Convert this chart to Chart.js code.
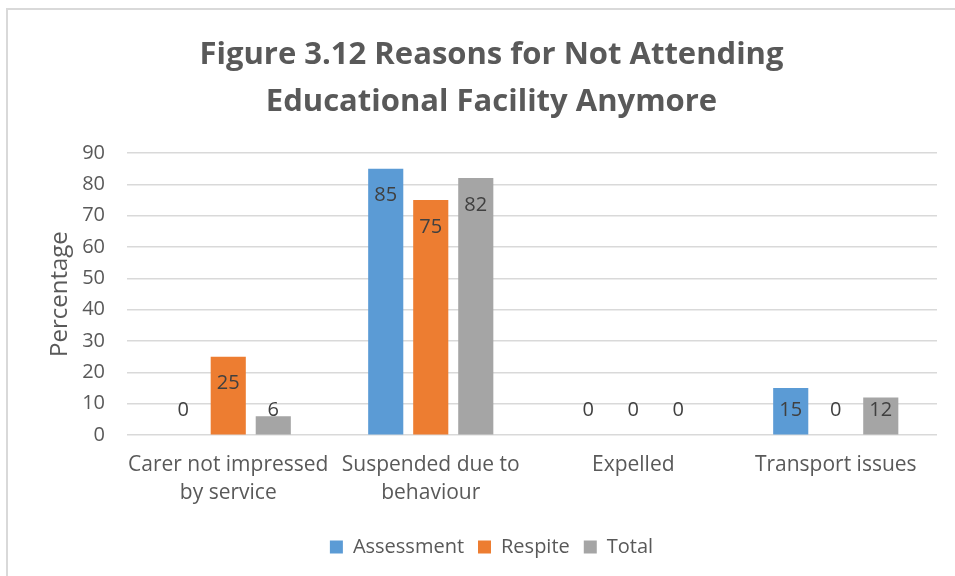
<!DOCTYPE html>
<html>
<head>
<meta charset="utf-8">
<script src="https://cdn.jsdelivr.net/npm/chart.js@4"></script>
<style>
  html, body { margin: 0; padding: 0; background: #fff; overflow: hidden; }
  #frame {
    position: absolute; left: 6px; top: 8px; width: 980px; height: 600px;
    border: 2px solid #d9d9d9; box-sizing: border-box;
  }
  #wrap { position: absolute; left: 0; top: 0; width: 955px; height: 576px; }
</style>
</head>
<body>
<div id="frame"></div>
<div id="wrap"><canvas id="chart"></canvas></div>
<script>
const categories = [
  ["Carer not impressed", "by service"],
  ["Suspended due to", "behaviour"],
  "Expelled",
  "Transport issues",
];
const assessment = [0, 85, 0, 15];
const respite = [25, 75, 0, 0];
const total = [6, 82, 0, 12];
const y_ticks = [0, 10, 20, 30, 40, 50, 60, 70, 80, 90];

const text_font = "'Open Sans', 'Noto Sans', sans-serif";

// value labels sit just inside the top of each bar, but never below a floor above the axis
const bar_labels = {
  id: "bar_labels",
  afterDatasetsDraw(chart) {
    const ctx = chart.ctx;
    const y_scale = chart.scales.y;
    const base = y_scale.getPixelForValue(0);
    ctx.save();
    ctx.font = "20px " + text_font;
    ctx.fillStyle = "#404040";
    ctx.textAlign = "center";
    ctx.textBaseline = "middle";
    chart.data.datasets.forEach((ds, di) => {
      chart.getDatasetMeta(di).data.forEach((bar, i) => {
        const top = y_scale.getPixelForValue(ds.data[i]);
        const y = Math.min(top + 27, base - 25);
        ctx.fillText(String(ds.data[i]), bar.x, y);
      });
    });
    ctx.restore();
  },
};

new Chart(document.getElementById("chart"), {
  type: "bar",
  data: {
    labels: categories,
    datasets: [
      { label: "Assessment", data: assessment, backgroundColor: "#5b9bd5" },
      { label: "Respite", data: respite, backgroundColor: "#ed7d31" },
      { label: "Total", data: total, backgroundColor: "#a5a5a5" },
    ],
  },
  options: {
    responsive: true,
    maintainAspectRatio: false,
    animation: false,
    categoryPercentage: 0.667,
    barPercentage: 0.78,
    layout: {
      autoPadding: false,
      padding: { left: 46, right: 18, top: 14, bottom: 9 },
    },
    plugins: {
      title: {
        display: true,
        text: ["Figure 3.12 Reasons for Not Attending", "Educational Facility Anymore"],
        color: "#595959",
        font: { family: text_font, size: 31, weight: "bold", lineHeight: 1.5 },
        padding: { top: 18, bottom: 28 },
      },
      legend: {
        position: "bottom",
        labels: {
          color: "#595959",
          font: { family: text_font, size: 20 },
          boxWidth: 13,
          boxHeight: 13,
          padding: 14,
        },
      },
      tooltip: { enabled: false },
    },
    scales: {
      x: {
        grid: { display: false },
        border: { display: false },
        // long category names may spill past the plot edges; keep a gap above the legend
        afterFit(axis) {
          axis.paddingLeft = 0;
          axis.paddingRight = 0;
          axis.height += 8;
        },
        ticks: {
          color: "#595959",
          font: { family: text_font, size: 21, lineHeight: 1.33 },
          maxRotation: 0,
          autoSkip: false,
          padding: 8,
        },
      },
      y: {
        min: 0,
        max: 90,
        afterBuildTicks(axis) {
          axis.ticks = y_ticks.map((v) => ({ value: v }));
        },
        afterFit(axis) {
          axis.width = 81;
        },
        grid: { color: "#d9d9d9", lineWidth: 1.5, drawTicks: false },
        border: { display: false },
        ticks: {
          color: "#595959",
          font: { family: text_font, size: 20 },
          padding: 22,
        },
        title: {
          display: true,
          text: "Percentage",
          color: "#595959",
          font: { family: text_font, size: 24 },
          padding: { top: 0, bottom: 8 },
        },
      },
    },
  },
  plugins: [bar_labels],
});
</script>
</body>
</html>
